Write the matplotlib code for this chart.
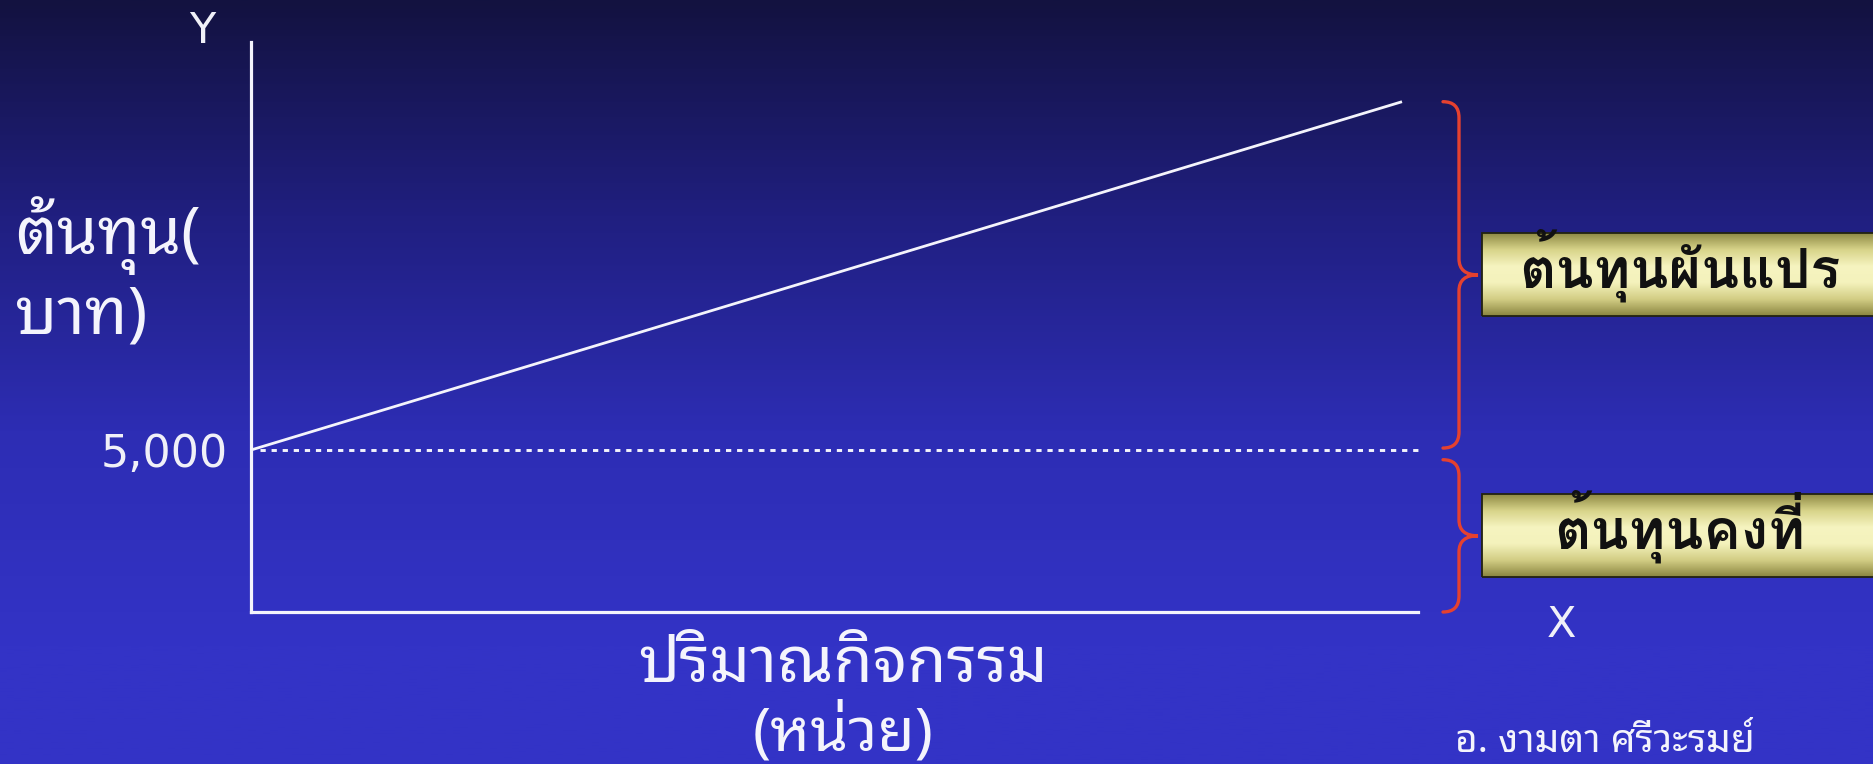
import numpy as np
import matplotlib
matplotlib.use("Agg")
import matplotlib.pyplot as plt
from matplotlib.path import Path
from matplotlib.patches import PathPatch, Rectangle
from matplotlib.colors import LinearSegmentedColormap

# cost line: fixed part 5,000 then grows with activity
activity = [0, 1000]
total_cost = [5000, 15750]
fixed_cost = 5000
ytick_vals = [5000]
ytick_labels = ["5,000"]

ylabel_lines = ["ต้นทุน(", "บาท)"]
xlabel_lines = ["ปริมาณกิจกรรม", "(หน่วย)"]
box_labels = ["ต้นทุนผันแปร", "ต้นทุนคงที่"]
author = "อ. งามตา ศรีวะรมย์"

THAI = "Noto Sans Thai Looped"
THAI_BOLD = "Loma"

W, H = 1873, 764
fig = plt.figure(figsize=(W / 100, H / 100), dpi=100)
ax = fig.add_axes([0, 0, 1, 1])

# pixel layout of the plot area
x0_px, y0_px = 251, 612
px_per_x = (1402 - x0_px) / activity[1]
px_per_y = (y0_px - 450) / fixed_cost
ax.set_xlim(-x0_px / px_per_x, (W - x0_px) / px_per_x)
ax.set_ylim(-(H - y0_px) / px_per_y, y0_px / px_per_y)

# background: dark navy at top fading to blue
bg = LinearSegmentedColormap.from_list("bg", ["#131240", "#201f80", "#2d2db4", "#3333c6"])
grad = np.clip(np.linspace(0, 1, 256).reshape(-1, 1) / 0.85, 0, 1)
ax.imshow(grad, cmap=bg, extent=[0, 1, 0, 1], transform=ax.transAxes,
          aspect="auto", zorder=0, vmin=0, vmax=1, origin="upper")

for s in ["top", "right"]:
    ax.spines[s].set_visible(False)
x_end = (1418 - x0_px) / px_per_x
y_top = (y0_px - 42) / px_per_y
ax.spines["left"].set_position(("data", 0))
ax.spines["bottom"].set_position(("data", 0))
ax.spines["left"].set_bounds(0, y_top)
ax.spines["bottom"].set_bounds(0, x_end)
for s in ["left", "bottom"]:
    ax.spines[s].set_color("#f4f4fc")
    ax.spines[s].set_linewidth(2.3)
    ax.spines[s].set_zorder(3)

# ticks after the spines are moved, otherwise they get reset
ax.set_xticks([])
ax.set_yticks(ytick_vals)
ax.set_yticklabels(ytick_labels)
ax.tick_params(axis="y", length=0, pad=17, labelsize=32, labelcolor="#f0f0f8")
for lab in ax.get_yticklabels():
    lab.set_family("DejaVu Sans")

ax.plot(activity, total_cost, color="#f4f4fc", lw=2.0, zorder=3, solid_capstyle="butt")
ax.plot([8, x_end], [fixed_cost, fixed_cost], color="#f4f4fc", lw=2.1,
        ls=(0, (1.8, 2.0)), zorder=3)


def brace(ax, y_lo, y_hi, xs, xv, xt, ry):
    ym = (y_lo + y_hi) / 2
    verts = [(xs, y_hi), (xv, y_hi), (xv, y_hi - ry),
             (xv, ym + ry), (xv, ym), (xt, ym),
             (xv, ym), (xv, ym - ry),
             (xv, y_lo + ry), (xv, y_lo), (xs, y_lo)]
    codes = [Path.MOVETO, Path.CURVE3, Path.CURVE3,
             Path.LINETO, Path.CURVE3, Path.CURVE3,
             Path.CURVE3, Path.CURVE3,
             Path.LINETO, Path.CURVE3, Path.CURVE3]
    ax.add_patch(PathPatch(Path(verts, codes), fill=False, ec="#e5412f",
                           lw=2.4, zorder=3, capstyle="round"))
    return ym


xs = (1443 - x0_px) / px_per_x
xv = (1459 - x0_px) / px_per_x
xt = (1478 - x0_px) / px_per_x
ry = 16 / px_per_y
gap = 60
mid_var = brace(ax, fixed_cost + gap, total_cost[1], xs, xv, xt, ry)
mid_fix = brace(ax, 0, fixed_cost - 5 * gap, xs, xv, xt, ry)

renderer = fig.canvas.get_renderer()


def fit_width(t, width_px):
    w = t.get_window_extent(renderer).width
    t.set_fontsize(t.get_fontsize() * width_px / w)
    return t.get_fontsize()


# yellow label boxes with a shaded fill
box_cmap = LinearSegmentedColormap.from_list(
    "box", ["#8f8a45", "#d8d48a", "#f6f4c0", "#f4f2bc", "#d2cd84", "#8a8540"])
bx0 = (1482 - x0_px) / px_per_x
bx1 = (1890 - x0_px) / px_per_x
half_h = 41.5 / px_per_y
shade = np.linspace(0, 1, 128).reshape(-1, 1)
box_fs = None
for mid, lab in zip([mid_var, mid_fix], box_labels):
    ax.imshow(shade, cmap=box_cmap, extent=[bx0, bx1, mid - half_h, mid + half_h],
              aspect="auto", zorder=4, origin="upper")
    ax.add_patch(Rectangle((bx0, mid - half_h), bx1 - bx0, 2 * half_h, fill=False,
                           ec="#222210", lw=1.3, zorder=5))
    t = ax.text((1680 - x0_px) / px_per_x, mid - 13 / px_per_y, lab, ha="center",
                va="baseline", fontsize=30, fontweight="bold", family=THAI_BOLD,
                color="#111111", zorder=6)
    if box_fs is None:
        box_fs = fit_width(t, 322)
    else:
        t.set_fontsize(box_fs)

# axis names and labels
fig.text(202 / W, 1 - 43 / H, "Y", ha="center", va="baseline", fontsize=31,
         color="#f0f0f8", family="DejaVu Sans")
fig.text(1561 / W, 1 - 637 / H, "X", ha="center", va="baseline", fontsize=31,
         color="#f0f0f8", family="DejaVu Sans")
t1 = fig.text(15 / W, 1 - 254 / H, ylabel_lines[0], ha="left", va="baseline",
              fontsize=30, color="#f4f4fc", family=THAI)
fs1 = fit_width(t1, 186)
fig.text(15 / W, 1 - 334 / H, ylabel_lines[1], ha="left", va="baseline",
         fontsize=fs1, color="#f4f4fc", family=THAI)
t2 = fig.text(843 / W, 1 - 682 / H, xlabel_lines[0], ha="center", va="baseline",
              fontsize=30, color="#f4f4fc", family=THAI)
fs2 = fit_width(t2, 410)
fig.text(843 / W, 1 - 750 / H, xlabel_lines[1], ha="center", va="baseline",
         fontsize=fs2 * 0.95, color="#f4f4fc", family=THAI)
t3 = fig.text(1605 / W, 1 - 752 / H, author, ha="center", va="baseline",
              fontsize=20, color="#f4f4fc", family=THAI)
fit_width(t3, 300)

fig.savefig("out.png", dpi=100)
